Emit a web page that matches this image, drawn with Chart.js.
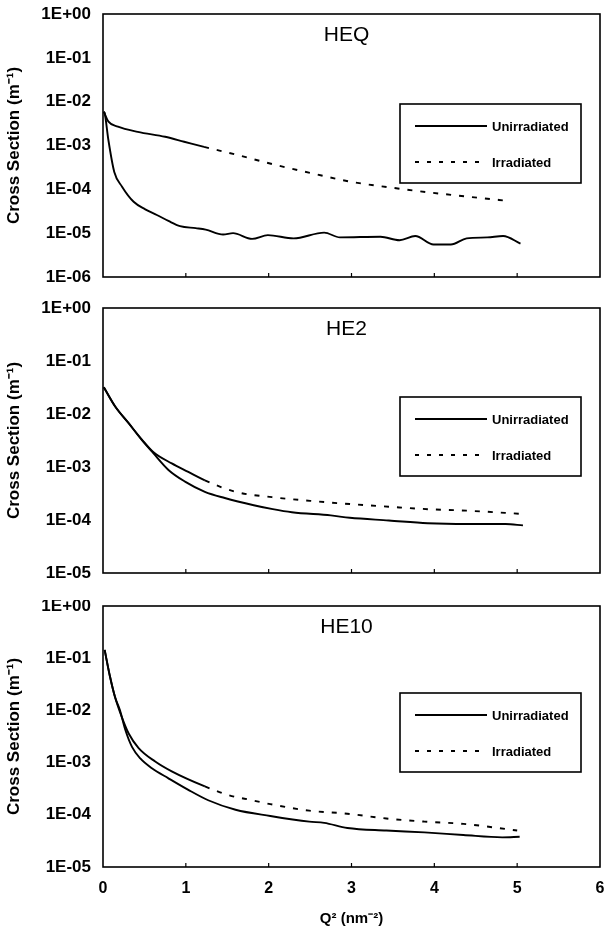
<!DOCTYPE html>
<html>
<head>
<meta charset="utf-8">
<script src="https://cdn.jsdelivr.net/npm/chart.js@4.4.1/dist/chart.umd.min.js"></script>
<style>
  html, body { margin: 0; padding: 0; background: #fff; }
  #wrap { position: relative; width: 608px; height: 932px; }
  .panel { position: absolute; left: 0; width: 608px; }
  #heq-box { top: 0; height: 300px; }
  #he2-box { top: 300px; height: 300px; }
  #he10-box { top: 600px; height: 332px; }
</style>
</head>
<body>
<div id="wrap">
  <div class="panel" id="heq-box"><canvas id="heq-chart"></canvas></div>
  <div class="panel" id="he2-box"><canvas id="he2-chart"></canvas></div>
  <div class="panel" id="he10-box"><canvas id="he10-chart"></canvas></div>
</div>
<script>
// values (Q^2 in nm^-2, cross section in m^-1)
const seriesLabels = ['Unirradiated', 'Irradiated'];
const xTickLabels = ['0', '1', '2', '3', '4', '5', '6'];

// HEQ
const heqUnirrQ = [0.01, 0.02, 0.066, 0.136, 0.23, 0.37, 0.51, 0.65, 0.79, 0.93, 1.12, 1.24, 1.45, 1.57, 1.8, 1.99, 2.3, 2.67, 2.86, 3.35, 3.58, 3.77, 3.99, 4.2, 4.39, 4.64, 4.83, 5.04];
const heqUnirrCS = [5.9e-3, 5.5e-3, 1.3e-3, 2.5e-4, 1.15e-4, 5.2e-5, 3.5e-5, 2.6e-5, 1.9e-5, 1.45e-5, 1.3e-5, 1.2e-5, 9.3e-6, 1.0e-5, 7.4e-6, 9.0e-6, 7.6e-6, 1.03e-5, 8.0e-6, 8.3e-6, 6.9e-6, 8.6e-6, 5.5e-6, 5.5e-6, 7.6e-6, 8.0e-6, 8.6e-6, 5.8e-6];
const heqIrrQ = [0.01, 0.066, 0.18, 0.42, 0.75, 0.98, 1.22, 1.59, 2.06, 2.53, 3.0, 3.47, 3.94, 4.41, 4.83];
const heqIrrCS = [5.9e-3, 3.5e-3, 2.7e-3, 2.05e-3, 1.58e-3, 1.22e-3, 9.3e-4, 6.3e-4, 3.7e-4, 2.3e-4, 1.48e-4, 1.1e-4, 8.5e-5, 6.8e-5, 5.6e-5];

// HE2
const he2UnirrQ = [0.01, 0.145, 0.31, 0.47, 0.61, 0.79, 0.99, 1.23, 1.47, 1.82, 2.05, 2.28, 2.75, 2.98, 3.45, 3.92, 4.39, 4.86, 5.07];
const he2UnirrCS = [3.2e-2, 1.4e-2, 6.7e-3, 3.2e-3, 1.8e-3, 8.8e-4, 5.3e-4, 3.4e-4, 2.6e-4, 1.9e-4, 1.6e-4, 1.4e-4, 1.22e-4, 1.1e-4, 9.8e-5, 8.7e-5, 8.4e-5, 8.4e-5, 7.9e-5];
const he2IrrQ = [0.01, 0.145, 0.31, 0.47, 0.61, 0.83, 1.03, 1.23, 1.6, 2.04, 2.5, 2.98, 3.45, 3.92, 4.39, 5.07];
const he2IrrCS = [3.2e-2, 1.4e-2, 6.7e-3, 3.3e-3, 1.9e-3, 1.17e-3, 8.1e-4, 5.6e-4, 3.4e-4, 2.7e-4, 2.3e-4, 2.0e-4, 1.78e-4, 1.6e-4, 1.5e-4, 1.3e-4];

// HE10
const he10UnirrQ = [0.02, 0.085, 0.145, 0.205, 0.27, 0.35, 0.45, 0.59, 0.79, 1.03, 1.27, 1.6, 2.02, 2.49, 2.67, 2.95, 3.42, 3.88, 4.35, 4.82, 5.03];
const he10UnirrCS = [1.44e-1, 4.4e-2, 1.8e-2, 1.0e-2, 4.2e-3, 2.0e-3, 1.2e-3, 7.8e-4, 5.0e-4, 3.0e-4, 1.9e-4, 1.25e-4, 9.5e-5, 7.4e-5, 7.0e-5, 5.6e-5, 5.0e-5, 4.6e-5, 4.1e-5, 3.7e-5, 3.8e-5];
const he10IrrQ = [0.02, 0.085, 0.145, 0.225, 0.31, 0.43, 0.63, 0.83, 1.23, 1.51, 1.8, 2.02, 2.49, 2.95, 3.42, 3.88, 4.35, 5.0];
const he10IrrCS = [1.44e-1, 4.4e-2, 1.8e-2, 7.6e-3, 3.6e-3, 1.9e-3, 1.05e-3, 6.8e-4, 3.5e-4, 2.4e-4, 1.9e-4, 1.6e-4, 1.2e-4, 1.05e-4, 8.5e-5, 7.4e-5, 6.7e-5, 5.0e-5];

const FONT = '"Liberation Sans", Arial, sans-serif';

const toPoints = (xs, ys) => xs.map((x, i) => ({ x: x, y: ys[i] }));

// 1E-03 style labels
const sciLabel = (v) => {
  const e = Math.round(Math.log10(v));
  const sign = e < 0 ? '-' : '+';
  return '1E' + sign + String(Math.abs(e)).padStart(2, '0');
};

// frame, inward x ticks, panel name and boxed legend
const panelDecor = {
  id: 'panelDecor',
  afterDatasetsDraw(chart, args, opts) {
    const ctx = chart.ctx;
    const a = chart.chartArea;
    const xs = chart.scales.x;
    ctx.save();
    ctx.strokeStyle = '#000';
    ctx.lineWidth = 1.6;
    ctx.strokeRect(a.left, a.top, a.right - a.left, a.bottom - a.top);
    ctx.lineWidth = 1.2;
    for (let v = 1; v <= 5; v++) {
      const px = xs.getPixelForValue(v);
      ctx.beginPath();
      ctx.moveTo(px, a.bottom);
      ctx.lineTo(px, a.bottom - 4);
      ctx.stroke();
    }
    // panel name
    ctx.fillStyle = '#000';
    ctx.font = '21px ' + FONT;
    ctx.textAlign = 'center';
    ctx.textBaseline = 'middle';
    ctx.fillText(opts.name, (a.left + a.right) / 2 - 5, a.top + 21);
    // legend box
    const bx = a.left + 297, by = a.top + opts.legendTop, bw = 181, bh = 79;
    ctx.fillStyle = '#fff';
    ctx.fillRect(bx, by, bw, bh);
    ctx.lineWidth = 1.6;
    ctx.strokeRect(bx, by, bw, bh);
    ctx.font = 'bold 13px ' + FONT;
    ctx.textAlign = 'left';
    chart.data.datasets.forEach((ds, i) => {
      const ly = by + 22 + i * 36;
      ctx.beginPath();
      ctx.lineWidth = 1.8;
      ctx.setLineDash(i === 0 ? [] : [4, 8]);
      ctx.moveTo(bx + 15, ly);
      ctx.lineTo(bx + 87, ly);
      ctx.stroke();
      ctx.setLineDash([]);
      ctx.fillStyle = '#000';
      ctx.fillText(ds.label, bx + 92, ly + 1);
    });
    ctx.restore();
  }
};

const createPanel = function(canvasId, name, unirr, irr, yMinExp, pad, legendTop, showX) {
  const yTicks = [];
  for (let e = 0; e >= yMinExp; e--) yTicks.push(Math.pow(10, e));
  const config = {
    type: 'line',
    data: {
      datasets: [
        {
          label: seriesLabels[0],
          data: unirr,
          borderColor: '#000',
          borderWidth: 1.9,
          pointRadius: 0,
          cubicInterpolationMode: 'monotone'
        },
        {
          label: seriesLabels[1],
          data: irr,
          borderColor: '#000',
          borderWidth: 1.9,
          pointRadius: 0,
          cubicInterpolationMode: 'monotone',
          // dense points near the origin make the dashes merge into a solid line
          segment: {
            borderDash: ctx => ctx.p0.parsed.x >= 1.2 ? [5, 8] : undefined
          }
        }
      ]
    },
    options: {
      responsive: true,
      maintainAspectRatio: false,
      animation: false,
      layout: { padding: { top: pad.top, bottom: pad.bottom, left: 0, right: 8 } },
      plugins: {
        legend: { display: false },
        tooltip: { enabled: false },
        panelDecor: { name: name, legendTop: legendTop }
      },
      scales: {
        x: {
          type: 'linear',
          min: 0,
          max: 6,
          grid: { display: false, drawTicks: false },
          border: { display: false },
          ticks: {
            display: showX,
            stepSize: 1,
            padding: 12,
            maxRotation: 0,
            color: '#000',
            font: { family: FONT, size: 16, weight: 'bold' },
            callback: v => xTickLabels[v]
          },
          title: {
            display: showX,
            text: 'Q² (nm⁻²)',
            color: '#000',
            font: { family: FONT, size: 15, weight: 'bold' },
            padding: { top: 0, bottom: 4 }
          },
          afterFit: scale => {
            scale.height = showX ? 65 : 0;
            scale.paddingLeft = 0;
            scale.paddingRight = 0;
          }
        },
        y: {
          type: 'logarithmic',
          min: Math.pow(10, yMinExp),
          max: 1,
          grid: { display: false, drawTicks: false },
          border: { display: false },
          afterBuildTicks: scale => { scale.ticks = yTicks.map(v => ({ value: v })); },
          ticks: {
            padding: 12,
            color: '#000',
            font: { family: FONT, size: 17, weight: 'bold' },
            callback: v => sciLabel(v)
          },
          title: {
            display: true,
            text: 'Cross Section (m⁻¹)',
            color: '#000',
            font: { family: FONT, size: 17, weight: 'bold' },
            padding: { top: 4, bottom: 0 }
          },
          afterFit: scale => {
            scale.width = 103;
            scale.paddingTop = 0;
            scale.paddingBottom = 0;
          }
        }
      }
    },
    plugins: [panelDecor]
  };
  new Chart(document.getElementById(canvasId), config);
};

createPanel('heq-chart', 'HEQ', toPoints(heqUnirrQ, heqUnirrCS), toPoints(heqIrrQ, heqIrrCS), -6, { top: 14, bottom: 23 }, 90, false);
createPanel('he2-chart', 'HE2', toPoints(he2UnirrQ, he2UnirrCS), toPoints(he2IrrQ, he2IrrCS), -5, { top: 8, bottom: 27 }, 89, false);
createPanel('he10-chart', 'HE10', toPoints(he10UnirrQ, he10UnirrCS), toPoints(he10IrrQ, he10IrrCS), -5, { top: 6, bottom: 0 }, 87, true);
</script>
</body>
</html>
